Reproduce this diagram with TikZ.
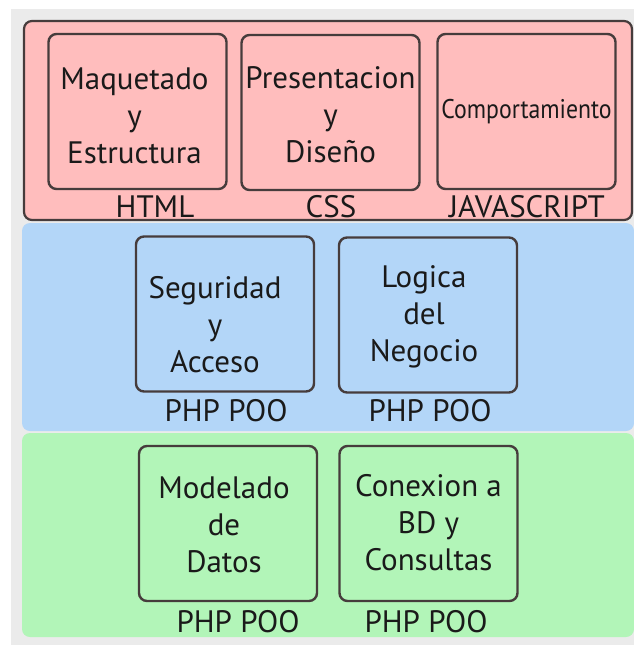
\documentclass[tikz,border=0pt]{standalone}
\usepackage{fontspec}
\setmainfont{PT Sans}
\usepackage{tikz}
\usetikzlibrary{positioning}
\definecolor{backgray}{HTML}{EBEBEB}
\definecolor{webred}{HTML}{FFBDBD}
\definecolor{logicblue}{HTML}{B3D6F8}
\definecolor{datagreen}{HTML}{B2F5B8}
\definecolor{edgegray}{HTML}{463C3C}
\definecolor{inkblack}{HTML}{1A1A1A}
\newcommand*{\txtsize}{\fontsize{31}{37}\selectfont}

\begin{document}
\begin{tikzpicture}[x=1pt, y=-1pt,
  capa/.style={rounded corners=8pt},
  modulo/.style={draw=edgegray, line width=2.4pt, rounded corners=8pt, minimum width=178pt, minimum height=155pt, inner sep=0pt},
  texto/.style={text=inkblack, align=center, font=\txtsize, inner sep=0pt},
  tecno/.style={text=inkblack, font=\txtsize, inner sep=0pt, anchor=base}]
 \useasboundingbox (0,0) rectangle (634,645);
 \fill[backgray] (11,9) rectangle (634,645);
 \filldraw[capa, fill=webred, draw=edgegray, line width=2.2pt] (24,21) rectangle (632,220);
 \fill[capa, logicblue] (22,223) rectangle (634,431);
 \fill[capa, datagreen] (22,433) rectangle (634,637);

 \node[modulo] (html) at (137.5,111.5) {};
 \node[modulo] (css) at (330.5,112.5) {};
 \node[modulo] (js) at (526.5,111.5) {};
 \node[texto] (htmltxt) at ([xshift=-3pt, yshift=-4pt]html.center) {Maquetado\\y\\Estructura};
 \node[texto] (csstxt) at ([yshift=-2pt]css.center) {Presentacion\\y\\Diseño};
 \node[texto, font=\fontsize{27}{30}\selectfont] (jstxt) at (js.center) {\scalebox{0.88}[1]{Comportamiento}};
 \node[tecno] (htmllbl) at (155,217) {HTML};
 \node[tecno] (csslbl) at (331,217) {CSS};
 \node[tecno] (jslbl) at (527,217) {JAVASCRIPT};

 \node[modulo] (seg) at (225,314) {};
 \node[modulo] (neg) at (428,315) {};
 \node[texto] (segtxt) at ([xshift=-10pt, yshift=-11pt]seg.center) {Seguridad\\y\\Acceso};
 \node[texto] (negtxt) at ([xshift=-4pt, yshift=-2pt]neg.center) {Logica\\del\\Negocio};
 \node[tecno] (seglbl) at (226,421) {PHP POO};
 \node[tecno] (neglbl) at (430,421) {PHP POO};

 \node[modulo] (mod) at (228,523.5) {};
 \node[modulo] (bd) at (428.5,523.5) {};
 \node[texto] (modtxt) at ([xshift=-4pt, yshift=-1.5pt]mod.center) {Modelado\\de\\Datos};
 \node[texto] (bdtxt) at ([yshift=1pt]bd.center) {Conexion a\\BD y\\Consultas};
 \node[tecno] (modlbl) at (238,632) {PHP POO};
 \node[tecno] (bdlbl) at (426,632) {PHP POO};
\end{tikzpicture}
\end{document}
